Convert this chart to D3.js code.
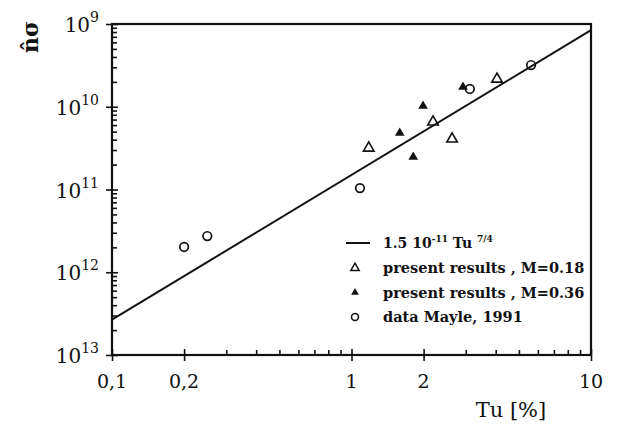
<!DOCTYPE html>
<html>
<head>
<meta charset="utf-8">
<script src="https://cdn.jsdelivr.net/npm/d3@7"></script>
<style>
body { margin:0; background:#fff; }
svg text { font-family: "DejaVu Serif", "Liberation Serif", serif; font-weight: bold; fill:#111; }
</style>
</head>
<body>
<div id="chart"></div>
<script>
// Tu [%] vs n-hat sigma
var mayleTu    = [0.2, 0.25, 1.085, 3.12, 5.62];
var mayleN     = [2.02e-12, 2.74e-12, 1.04e-11, 1.64e-10, 3.19e-10];
var m018Tu     = [1.18, 2.19, 2.63, 4.05];
var m018N      = [3.17e-11, 6.54e-11, 4.08e-11, 2.16e-10];
var m036Tu     = [1.59, 1.81, 1.99, 2.92];
var m036N      = [4.82e-11, 2.47e-11, 1.02e-10, 1.73e-10];
var fitTu      = [0.1, 10];
var fitN       = [2.67e-13, 8.43e-10];

var xMajor = [0.1, 0.2, 1, 2, 10];
var xMajorLabels = ["0,1", "0,2", "1", "2", "10"];
var xMinor = [0.3,0.4,0.5,0.6,0.7,0.8,0.9,3,4,5,6,7,8,9];
var yMajor = [1e-13, 1e-12, 1e-11, 1e-10, 1e-9];
var yExpLabels = ["13", "12", "11", "10", "9"];
var legendItems = ["present results , M=0.18", "present results , M=0.36", "data Mayle, 1991"];

var chart = {
	padding: {l:112, r:27, t:24, b:76},
	w: 618,
	h: 431,
	svg: null
};

chart.svg = d3.select('#chart').append('svg')
			.attr('width', chart.w)
			.attr('height', chart.h);

var x = d3.scaleLog()
		.domain([0.1, 10])
		.range([chart.padding.l, chart.w - chart.padding.r]);
var y = d3.scaleLog()
		.domain([1e-13, 1e-9])
		.range([chart.h - chart.padding.b, chart.padding.t]);

var yMinor = [];
yMajor.slice(0, -1).forEach(function(m) {
	for (var k = 2; k <= 9; k++) yMinor.push(m * k);
});

var bottom = chart.h - chart.padding.b;
var left = chart.padding.l;

// minor ticks (inward)
chart.svg.append('g')
	.attr('class', 'axis')
	.attr('transform', 'translate(0,' + bottom + ')')
	.call(d3.axisBottom(x).tickValues(xMinor).tickSize(-5).tickFormat(''))
	.call(g => g.select('.domain').remove());
chart.svg.append('g')
	.attr('class', 'axis')
	.attr('transform', 'translate(' + left + ',0)')
	.call(d3.axisLeft(y).tickValues(yMinor).tickSize(-5).tickFormat(''))
	.call(g => g.select('.domain').remove());

// major ticks crossing the axis
[6, -6].forEach(function(s) {
	chart.svg.append('g')
		.attr('transform', 'translate(0,' + bottom + ')')
		.call(d3.axisBottom(x).tickValues(xMajor).tickSize(s).tickFormat(''))
		.call(g => g.select('.domain').remove());
	chart.svg.append('g')
		.attr('transform', 'translate(' + left + ',0)')
		.call(d3.axisLeft(y).tickValues(yMajor).tickSize(s).tickFormat(''))
		.call(g => g.select('.domain').remove());
});
chart.svg.selectAll('.tick line').attr('stroke', '#111').attr('stroke-width', 1.6);

// frame
chart.svg.append('rect')
	.attr('x', x(0.1))
	.attr('y', y(1e-9))
	.attr('width', x(10) - x(0.1))
	.attr('height', y(1e-13) - y(1e-9))
	.attr('fill', 'none')
	.attr('stroke', '#111')
	.attr('stroke-width', 2.2);

// tick labels
chart.svg.append('g')
	.selectAll('text')
	.data(xMajor)
	.enter()
	.append('text')
		.attr('x', d => x(d))
		.attr('y', bottom + 33)
		.attr('text-anchor', 'middle')
		.style('font-size', '19px')
		.style('font-weight', 'normal')
		.text((d,i) => xMajorLabels[i]);

var yl = chart.svg.append('g')
	.selectAll('text')
	.data(yMajor)
	.enter()
	.append('text')
		.attr('x', left - 13)
		.attr('y', d => y(d) + 8)
		.attr('text-anchor', 'end')
		.style('font-size', '20px')
		.style('font-weight', 'normal');
yl.append('tspan').text('10');
yl.append('tspan')
	.attr('dy', -10)
	.style('font-size', '14px')
	.text((d,i) => yExpLabels[i]);

// axis titles
chart.svg.append('text')
	.attr('transform', 'translate(38,37) rotate(-90)')
	.attr('text-anchor', 'middle')
	.style('font-size', '22px')
	.text('n\u0302\u03c3');
chart.svg.append('text')
	.attr('x', 511)
	.attr('y', 417)
	.attr('text-anchor', 'middle')
	.style('font-size', '21px')
	.style('font-weight', 'normal')
	.text('Tu [%]');

// fit line
var line = d3.line()
	.x(d => x(d[0]))
	.y(d => y(d[1]));
chart.svg.append('path')
	.datum(fitTu.map((t,i) => [t, fitN[i]]))
	.attr('d', line)
	.attr('fill', 'none')
	.attr('stroke', '#111')
	.attr('stroke-width', 2);

var tri = d3.symbol().type(d3.symbolTriangle);

chart.svg.append('g')
	.selectAll('path')
	.data(m018Tu.map((t,i) => [t, m018N[i]]))
	.enter()
	.append('path')
		.attr('d', tri.size(48)())
		.attr('transform', d => 'translate(' + x(d[0]) + ',' + y(d[1]) + ')')
		.attr('fill', 'none')
		.attr('stroke', '#111')
		.attr('stroke-width', 1.6);

chart.svg.append('g')
	.selectAll('path')
	.data(m036Tu.map((t,i) => [t, m036N[i]]))
	.enter()
	.append('path')
		.attr('d', tri.size(40)())
		.attr('transform', d => 'translate(' + x(d[0]) + ',' + y(d[1]) + ')')
		.attr('fill', '#111');

chart.svg.append('g')
	.selectAll('circle')
	.data(mayleTu.map((t,i) => [t, mayleN[i]]))
	.enter()
	.append('circle')
		.attr('cx', d => x(d[0]))
		.attr('cy', d => y(d[1]))
		.attr('r', 4.3)
		.attr('fill', 'none')
		.attr('stroke', '#111')
		.attr('stroke-width', 1.7);

// legend
var lg = chart.svg.append('g').attr('transform', 'translate(346,243)');
lg.append('line')
	.attr('x1', 0).attr('x2', 24)
	.attr('y1', 0).attr('y2', 0)
	.attr('stroke', '#111')
	.attr('stroke-width', 2);
var ft = lg.append('text')
	.attr('x', 37)
	.attr('y', 5)
	.style('font-size', '14px');
ft.append('tspan').text('1.5 10');
ft.append('tspan').attr('dy', -6).style('font-size', '9px').text('-11');
ft.append('tspan').attr('dy', 6).text('  Tu ');
ft.append('tspan').attr('dy', -6).style('font-size', '9px').text(' 7/4');

var rows = lg.selectAll('g.row')
	.data(legendItems)
	.enter()
	.append('g')
		.attr('class', 'row')
		.attr('transform', (d,i) => 'translate(0,' + (25 + i*24.5) + ')');
rows.append('text')
	.attr('x', 37)
	.attr('y', 5)
	.style('font-size', '14.5px')
	.text(d => d);
rows.filter((d,i) => i === 0).append('path')
	.attr('d', tri.size(30)())
	.attr('transform', 'translate(9,0)')
	.attr('fill', 'none')
	.attr('stroke', '#111')
	.attr('stroke-width', 1.5);
rows.filter((d,i) => i === 1).append('path')
	.attr('d', tri.size(26)())
	.attr('transform', 'translate(9,0)')
	.attr('fill', '#111');
rows.filter((d,i) => i === 2).append('circle')
	.attr('cx', 9).attr('cy', 0).attr('r', 3.5)
	.attr('fill', 'none')
	.attr('stroke', '#111')
	.attr('stroke-width', 1.6);
</script>
</body>
</html>
